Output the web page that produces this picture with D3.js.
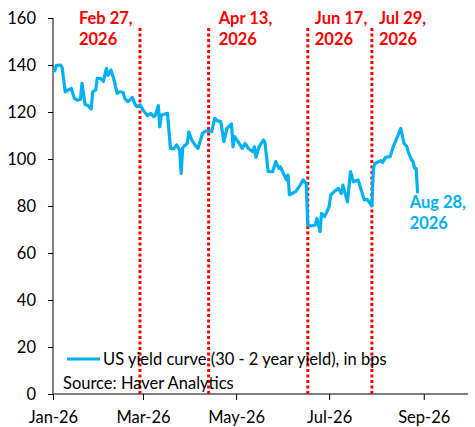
<!DOCTYPE html>
<html>
<head>
<meta charset="utf-8">
<script src="https://cdn.jsdelivr.net/npm/d3@7"></script>
<style>
  body { margin: 0; background: #fff; }
  svg { display: block; font-family: Lato, "Liberation Sans", sans-serif; }
  .tick text { fill: #000; }
</style>
</head>
<body>
<div id="chart"></div>
<script>
// US yield curve (30 - 2 year), bps
const dates = [
  '2026-01-02', '2026-01-03', '2026-01-06', '2026-01-07', '2026-01-09', '2026-01-11',
  '2026-01-13', '2026-01-15', '2026-01-17', '2026-01-19', '2026-01-20', '2026-01-22',
  '2026-01-24', '2026-01-26', '2026-01-27', '2026-01-29', '2026-01-30', '2026-02-01',
  '2026-02-03', '2026-02-05', '2026-02-06', '2026-02-08', '2026-02-10', '2026-02-12',
  '2026-02-14', '2026-02-16', '2026-02-17', '2026-02-19', '2026-02-20', '2026-02-22',
  '2026-02-24', '2026-02-25', '2026-02-27', '2026-03-01', '2026-03-04', '2026-03-06',
  '2026-03-08', '2026-03-09', '2026-03-11', '2026-03-12', '2026-03-13', '2026-03-17',
  '2026-03-19', '2026-03-21', '2026-03-23', '2026-03-25', '2026-03-26', '2026-03-27',
  '2026-03-30', '2026-03-31', '2026-04-02', '2026-04-04', '2026-04-06', '2026-04-09',
  '2026-04-11', '2026-04-13', '2026-04-15', '2026-04-17', '2026-04-19', '2026-04-21',
  '2026-04-23', '2026-04-25', '2026-04-28', '2026-04-29', '2026-04-30', '2026-05-03',
  '2026-05-05', '2026-05-07', '2026-05-09', '2026-05-12', '2026-05-13', '2026-05-14',
  '2026-05-16', '2026-05-19', '2026-05-20', '2026-05-22', '2026-05-25', '2026-05-27',
  '2026-05-29', '2026-05-30', '2026-06-01', '2026-06-03', '2026-06-04', '2026-06-05',
  '2026-06-09', '2026-06-12', '2026-06-14', '2026-06-16', '2026-06-17', '2026-06-19',
  '2026-06-22', '2026-06-23', '2026-06-25', '2026-06-26', '2026-06-28', '2026-07-01',
  '2026-07-02', '2026-07-05', '2026-07-07', '2026-07-09', '2026-07-10', '2026-07-13',
  '2026-07-15', '2026-07-17', '2026-07-20', '2026-07-24', '2026-07-26', '2026-07-29',
  '2026-07-30', '2026-07-31', '2026-08-04', '2026-08-05', '2026-08-07', '2026-08-10',
  '2026-08-12', '2026-08-17', '2026-08-19', '2026-08-21', '2026-08-22', '2026-08-24',
  '2026-08-25', '2026-08-26', '2026-08-27', '2026-08-28'
];
const spread = [
  137, 139.7, 140, 139, 128.6, 129.4,
  130, 125.8, 125, 125.4, 132.2, 123.3,
  122.7, 121.3, 128.6, 129.4, 134.3, 134.3,
  133, 138.6, 135.6, 137.9, 133.6, 128,
  128.6, 128.3, 125.8, 124.4, 124.8, 126.2,
  123, 122.3, 123, 120.9, 118.4, 119.4,
  118, 118.4, 122.7, 113.7, 118.7, 119.4,
  104.5, 104.3, 106, 103.8, 93.9, 104.8,
  106.7, 111.6, 108, 106, 104.5, 110.9,
  111.9, 111.9, 111.6, 117.3, 116.2, 115.9,
  107.4, 113, 114.9, 105.2, 109.5, 106.7,
  104.5, 106.7, 104.5, 103.1, 105.2, 100.7,
  105.2, 108.1, 106.7, 94.6, 94.6, 98.9,
  96, 96.7, 93.9, 91.1, 93.2, 84.7,
  86.1, 88.9, 91.1, 89.6, 71.9, 71.5,
  71.9, 74.7, 69.1, 76.9, 75.5, 79.7,
  84.7, 86.5, 87.5, 85.4, 88.9, 81.8,
  94.6, 90.3, 91.1, 82.6, 82.8, 80,
  96, 98.1, 99.3, 98.5, 100.7, 101,
  105.2, 113, 106.7, 105.2, 102.7, 99.6,
  98.9, 96, 96, 85.4
];

// event markers (red dotted lines)
const eventDates = ['2026-02-27', '2026-04-13', '2026-06-17', '2026-07-29'];
const eventLabels = [['Feb 27,', '2026'], ['Apr 13,', '2026'], ['Jun 17,', '2026'], ['Jul 29,', '2026']];

const yTicks = [0, 20, 40, 60, 80, 100, 120, 140, 160];
const seriesName = 'US yield curve (30 - 2 year yield), in bps';
const sourceText = 'Source: Haver Analytics';
const endLabel = ['Aug 28,', '2026'];

const parse = d3.timeParse('%Y-%m-%d');
const data = dates.map((d, i) => ({ date: parse(d), value: spread[i] }));

const width = 475;
const height = 427;
const margin = { top: 18, right: 7, bottom: 33, left: 53 };
const fontSize = 16.5;

const svg = d3.select('#chart')
  .append('svg')
  .attr('width', width)
  .attr('height', height);

const x = d3.scaleTime()
  .domain([parse('2026-01-01'), parse('2026-09-30')])
  .range([margin.left, width - margin.right]);

const y = d3.scaleLinear()
  .domain([0, 160])
  .range([height - margin.bottom, margin.top]);

// AXES
const xAxis = d3.axisBottom(x)
  .tickValues(d3.timeMonth.every(2).range(parse('2026-01-01'), parse('2026-10-01')))
  .tickFormat(d3.timeFormat('%b-%y'))
  .tickSize(6)
  .tickPadding(11);

const yAxis = d3.axisLeft(y)
  .tickValues(yTicks)
  .tickSize(5)
  .tickPadding(12);

svg.append('g')
  .attr('transform', `translate(0, ${y(0)})`)
  .call(xAxis)
  .call(g => g.select('.domain').attr('stroke', '#000').attr('d', `M${margin.left},0H${width - margin.right}`))
  .call(g => g.selectAll('.tick line').attr('stroke', '#000'))
  .call(g => g.selectAll('.tick text').attr('font-size', fontSize).attr('font-family', 'Lato, sans-serif'));

svg.append('g')
  .attr('transform', `translate(${margin.left}, 0)`)
  .call(yAxis)
  .call(g => g.select('.domain').attr('stroke', '#000').attr('d', `M0,${y(0)}V${y(160)}`))
  .call(g => g.selectAll('.tick line').attr('stroke', '#000'))
  .call(g => g.selectAll('.tick text').attr('font-size', fontSize).attr('font-family', 'Lato, sans-serif'));

// EVENT LINES
const events = eventDates.map((d, i) => ({ date: parse(d), label: eventLabels[i] }));

svg.append('g')
  .selectAll('line')
  .data(events)
  .enter()
  .append('line')
  .attr('x1', d => x(d.date))
  .attr('x2', d => x(d.date))
  .attr('y1', y(0))
  .attr('y2', y(156.5))
  .attr('stroke', '#ff0000')
  .attr('stroke-width', 3)
  .attr('stroke-dasharray', '3,2.5');

// label offset: first label sits left of its line, the rest to the right
const labelDx = [-61, 10, 7, 7];

const evLabels = svg.append('g')
  .selectAll('text')
  .data(events)
  .enter()
  .append('text')
  .attr('x', (d, i) => x(d.date) + labelDx[i])
  .attr('y', 24)
  .attr('fill', '#ff0000')
  .attr('font-size', fontSize)
  .attr('font-weight', 'bold');

evLabels.append('tspan').text(d => d.label[0]);
evLabels.append('tspan')
  .attr('x', (d, i) => x(d.date) + labelDx[i])
  .attr('dy', 21)
  .text(d => d.label[1]);

// SERIES
const line = d3.line()
  .x(d => x(d.date))
  .y(d => y(d.value));

svg.append('path')
  .datum(data)
  .attr('fill', 'none')
  .attr('stroke', '#00b0f0')
  .attr('stroke-width', 3.2)
  .attr('stroke-linejoin', 'round')
  .attr('d', line);

const last = data[data.length - 1];
const endText = svg.append('text')
  .attr('x', x(last.date) - 8)
  .attr('y', y(last.value) + 15)
  .attr('fill', '#00b0f0')
  .attr('font-size', fontSize)
  .attr('font-weight', 'bold');
endText.append('tspan').text(endLabel[0]);
endText.append('tspan')
  .attr('x', x(last.date) - 8)
  .attr('dy', 21)
  .text(endLabel[1]);

// LEGEND
const legend = svg.append('g').attr('transform', 'translate(67, 359)');
legend.append('line')
  .attr('x1', 0)
  .attr('x2', 33)
  .attr('stroke', '#00b0f0')
  .attr('stroke-width', 3);
legend.append('text')
  .attr('x', 36)
  .attr('y', 6)
  .attr('font-size', fontSize)
  .text(seriesName);

svg.append('text')
  .attr('x', 63)
  .attr('y', 389)
  .attr('font-size', fontSize)
  .text(sourceText);
</script>
</body>
</html>
